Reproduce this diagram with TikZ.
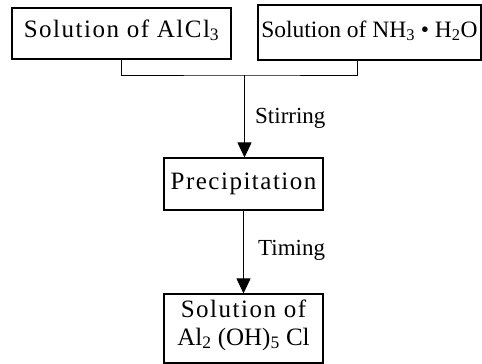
\documentclass[tikz,border=0pt]{standalone}
\usepackage{fontspec}
\setmainfont{Liberation Serif}
\newfontfamily\spaced[LetterSpace=6]{Liberation Serif}
\usetikzlibrary{arrows.meta}
\begin{document}
\begin{tikzpicture}[x=1pt,y=-1pt,
  box/.style={draw,line width=1.1pt,inner sep=0pt,align=center},
  conn/.style={line width=0.8pt},
  arr/.style={conn,-{Triangle[width=14pt,length=15pt]}},
  lbl/.style={anchor=base west,inner sep=0pt,font=\fontsize{23}{26}\selectfont}]
\useasboundingbox (0,0) rectangle (482,364);
\node[box,minimum width=219pt,minimum height=51pt,text height=7pt,text depth=0pt,
  font=\spaced\fontsize{25}{28}\selectfont] (a) at (121.5,33.5) {Solution of AlCl\textsubscript{3}};
\node[box,minimum width=223pt,minimum height=55pt,text height=9pt,text depth=0pt,
  font=\fontsize{23.5}{28}\selectfont] (b) at (369.5,32.5) {Solution of NH\textsubscript{3} • H\textsubscript{2}O};
\node[box,minimum width=159pt,minimum height=52pt,text height=10pt,text depth=0pt,
  font=\spaced\fontsize{25}{28}\selectfont] (p) at (243.5,184) {Precipitation};
\node[box,minimum width=159pt,minimum height=69pt,text height=33pt,text depth=0pt,
  font=\fontsize{25}{28}\selectfont] (s) at (243.5,328.5) {{\spaced Solution of}\\Al\textsubscript{2} (OH)\textsubscript{5} Cl};
\coordinate (j) at (244.5,75);
\draw[conn] (a.south) |- (j) -| ([xshift=-12.5pt]b.south);
\draw[arr] (j) -- (j |- p.north);
\draw[arr] (p.south) -- (s.north);
\node[lbl] (st) at (255,123) {Stirring};
\node[lbl] (ti) at (258,255) {Timing};
\end{tikzpicture}
\end{document}
